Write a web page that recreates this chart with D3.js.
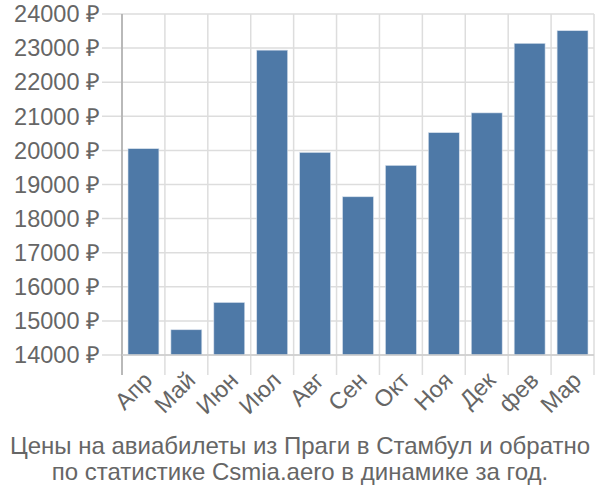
<!DOCTYPE html>
<html><head><meta charset="utf-8">
<script src="https://cdn.jsdelivr.net/npm/d3@7"></script>
<style>body{margin:0;background:#fff}</style>
</head><body>
<svg id="c" width="600" height="500"></svg>
<script>
const categories = ["Апр","Май","Июн","Июл","Авг","Сен","Окт","Ноя","Дек","фев","Мар"];
const values = [20050,14740,15540,22940,19940,18640,19560,20520,21100,23140,23510];
const yTicks = [14000,15000,16000,17000,18000,19000,20000,21000,22000,23000,24000];
const titleLines = ["Цены на авиабилеты из Праги в Стамбул и обратно","по статистике Csmia.aero в динамике за год."];

const svg = d3.select("#c");
const L = 122, R = 594, T = 14, B = 355;
const font = "'Liberation Sans', Arial, sans-serif";
const x = d3.scaleBand().domain(categories).range([L, R]).paddingInner(0.28).paddingOuter(0.14);
const y = d3.scaleLinear().domain([14000, 24000]).range([B, T]);
const step = x.step();

// horizontal grid
svg.append("g").selectAll("line").data(yTicks).join("line")
  .attr("x1", L - 20).attr("x2", R).attr("y1", d => y(d)).attr("y2", d => y(d))
  .attr("stroke", "#ddd").attr("stroke-width", 1.5);
// vertical grid at band boundaries
const bounds = d3.range(categories.length + 1).map(i => L + i * step);
svg.append("g").selectAll("line").data(bounds).join("line")
  .attr("x1", d => d).attr("x2", d => d).attr("y1", T).attr("y2", B + 20)
  .attr("stroke", "#ddd").attr("stroke-width", 1.5);

// bars
svg.append("g").selectAll("rect").data(values).join("rect")
  .attr("x", (d, i) => x(categories[i]))
  .attr("width", x.bandwidth())
  .attr("y", d => y(d))
  .attr("height", d => B - y(d))
  .attr("fill", "#4e79a7")
  .attr("stroke", "#d6e0ec").attr("stroke-width", 0.6);

// axes lines
svg.append("line").attr("x1", L).attr("x2", L).attr("y1", T).attr("y2", B + 20)
  .attr("stroke", "#aaa").attr("stroke-width", 1.5);
svg.append("line").attr("x1", L).attr("x2", R).attr("y1", B).attr("y2", B)
  .attr("stroke", "#ccc").attr("stroke-width", 1.5);

// y labels
svg.append("g").selectAll("text").data(yTicks).join("text")
  .attr("x", 100).attr("y", d => y(d)).attr("dy", "0.35em")
  .attr("text-anchor", "end").attr("fill", "#666")
  .style("font-family", font).style("font-size", "23.5px")
  .text(d => d + " ₽");

// x labels
svg.append("g").selectAll("text").data(categories).join("text")
  .attr("transform", d => `translate(${x(d) + x.bandwidth() / 2 + 4.5},${B + 21}) rotate(-45)`)
  .attr("text-anchor", "end").attr("dy", "0.35em").attr("fill", "#666")
  .style("font-family", font).style("font-size", "23.5px")
  .text(d => d);

// title
svg.append("g").selectAll("text").data(titleLines).join("text")
  .attr("x", 300).attr("y", (d, i) => 454 + i * 26)
  .attr("text-anchor", "middle").attr("fill", "#666")
  .style("font-family", font).style("font-size", "24px")
  .text(d => d);
</script>
</body></html>
